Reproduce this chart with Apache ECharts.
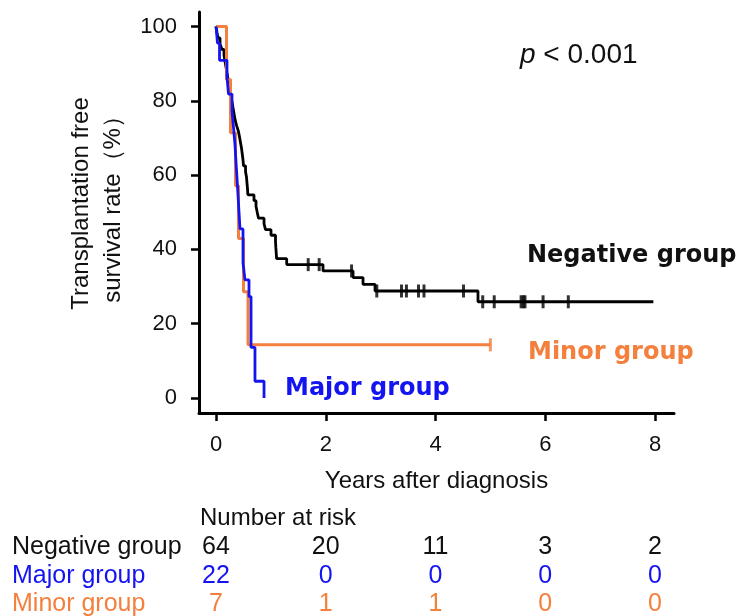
<!DOCTYPE html>
<html>
<head>
<meta charset="utf-8">
<script src="https://cdn.jsdelivr.net/npm/echarts@6/dist/echarts.min.js"></script>
<style>html,body{margin:0;padding:0;background:#fff}#c{width:736px;height:616px}</style>
</head>
<body>
<div id="c"></div>
<script>
// ---- data ----
const xTicks = [0, 2, 4, 6, 8];
const yTicks = [0, 20, 40, 60, 80, 100];

// Negative group (black) step curve: time (years) and survival (%) after each step
const negTimes = [0, 0.018, 0.036, 0.073, 0.109, 0.146, 0.164, 0.182, 0.200, 0.219, 0.237, 0.255, 0.273, 0.292, 0.310, 0.328, 0.346, 0.374, 0.406, 0.428, 0.446, 0.465, 0.479, 0.492, 0.501, 0.538, 0.556, 0.565, 0.574, 0.580, 0.692, 0.729, 0.751, 0.774, 0.875, 0.902, 1.002, 1.084, 1.090, 1.097, 1.104, 1.288, 1.950, 2.497, 2.679, 2.898, 4.774, 7.97];
const negSurv  = [100, 98.4, 96.9, 95.3, 93.8, 92.2, 90.6, 89.1, 87.5, 85.9, 84.4, 82.8, 81.3, 79.7, 78.1, 76.6, 75.0, 73.4, 71.9, 70.3, 68.8, 67.2, 65.6, 64.1, 62.5, 60.9, 59.4, 57.8, 56.3, 54.7, 53.1, 51.6, 50.0, 48.4, 46.9, 45.3, 43.8, 42.2, 40.6, 39.1, 37.5, 35.9, 34.2, 32.4, 30.6, 28.8, 25.9, 25.9];
const negCensorTimes = [1.68, 1.88, 2.47, 2.93, 3.38, 3.47, 3.69, 3.79, 4.51, 4.86, 5.07, 5.56, 5.60, 5.63, 5.96, 6.42];
const negCensorSurv  = [35.9, 35.9, 34.2, 28.8, 28.8, 28.8, 28.8, 28.8, 28.8, 25.9, 25.9, 25.9, 25.9, 25.9, 25.9, 25.9];

// Major group (blue)
const majTimes = [0, 0.027, 0.064, 0.200, 0.228, 0.291, 0.319, 0.346, 0.364, 0.383, 0.401, 0.419, 0.437, 0.492, 0.528, 0.601, 0.638, 0.710, 0.875];
const majSurv  = [100, 95.5, 90.9, 86.4, 81.8, 77.3, 72.7, 68.2, 63.6, 59.1, 54.5, 50.0, 45.5, 36.4, 31.8, 27.3, 13.6, 4.5, 0];

// Minor group (orange)
const minTimes = [0, 0.191, 0.264, 0.355, 0.410, 0.501, 0.583, 5.0];
const minSurv  = [100, 85.7, 71.4, 57.1, 42.9, 28.6, 14.3, 14.3];
const minCensorTimes = [5.0];
const minCensorSurv  = [14.3];

// Number at risk table
const riskGroups = ['Negative group', 'Major group', 'Minor group'];
const riskNegative = [64, 20, 11, 3, 2];
const riskMajor = [22, 0, 0, 0, 0];
const riskMinor = [7, 1, 1, 0, 0];

// ---- styling ----
const FONT = '"Liberation Sans", Arial, sans-serif';
const BOLD = '"DejaVu Sans", Verdana, sans-serif';
const BLACK = '#111111';
const BLUE = '#1414f0';
const ORANGE = '#f4803e';

const zip = (a, b) => a.map((v, i) => [v, b[i]]);

const chart = echarts.init(document.getElementById('c'), null, {renderer: 'canvas'});

const option = {
  animation: false,
  backgroundColor: '#ffffff',
  title: {
    text: '{i|p} < 0.001',
    left: 515, top: 36,
    textStyle: {
      fontSize: 28, fontFamily: FONT, color: BLACK, fontWeight: 'normal',
      rich: {i: {fontSize: 28, fontFamily: FONT, color: BLACK, fontStyle: 'italic'}}
    }
  },
  grid: {left: 199, right: 62, top: 12, bottom: 203, containLabel: false, outerBoundsMode: 'none'},
  xAxis: {
    type: 'value', min: -0.31, max: 8.346,
    axisLine: {show: true, onZero: false, lineStyle: {color: '#000', width: 3}},
    axisTick: {show: true, customValues: xTicks, length: 8, lineStyle: {color: '#000', width: 2.5}},
    axisLabel: {customValues: xTicks, fontSize: 22, color: BLACK, fontFamily: FONT, margin: 21},
    splitLine: {show: false},
    name: 'Years after diagnosis', nameLocation: 'middle', nameGap: 56,
    nameTextStyle: {fontSize: 24, color: BLACK, fontFamily: FONT}
  },
  yAxis: {
    type: 'value', min: -4.04, max: 103.9,
    axisLine: {show: true, onZero: false, lineStyle: {color: '#000', width: 3}},
    axisTick: {show: true, customValues: yTicks, length: 8, lineStyle: {color: '#000', width: 2.5}},
    axisLabel: {customValues: yTicks, fontSize: 22, color: BLACK, fontFamily: FONT, margin: 22},
    splitLine: {show: false},
    name: 'Transplantation free\nsurvival rate（%）', nameLocation: 'middle', nameGap: 66, nameRotate: 90,
    nameTextStyle: {fontSize: 24, lineHeight: 32, color: BLACK, fontFamily: FONT, padding: [0, 0, 0, 18]}
  },
  series: [
    {
      name: 'Negative group', type: 'line', step: 'end', data: zip(negTimes, negSurv),
      showSymbol: false, symbol: 'none', lineStyle: {color: '#000', width: 2.8}, z: 2
    },
    {
      name: 'Negative censored', type: 'scatter', data: zip(negCensorTimes, negCensorSurv),
      symbol: 'rect', symbolSize: [3, 13], itemStyle: {color: '#000'}, z: 3
    },
    {
      name: 'Minor group', type: 'line', step: 'end', data: zip(minTimes, minSurv),
      showSymbol: false, symbol: 'none', lineStyle: {color: ORANGE, width: 3}, z: 4
    },
    {
      name: 'Minor censored', type: 'scatter', data: zip(minCensorTimes, minCensorSurv),
      symbol: 'rect', symbolSize: [3, 13], itemStyle: {color: ORANGE}, z: 4
    },
    {
      name: 'Major group', type: 'line', step: 'end', data: zip(majTimes, majSurv),
      showSymbol: false, symbol: 'none', lineStyle: {color: BLUE, width: 2.8}, z: 5
    }
  ]
};

chart.setOption(option);

// ---- annotations & number-at-risk table ----
const graphics = [
  {type: 'text', left: 527, top: 244, style: {text: 'Negative group', font: 'bold 24px ' + BOLD, fill: BLACK}},
  {type: 'text', left: 528, top: 341, style: {text: 'Minor group', font: 'bold 24px ' + BOLD, fill: ORANGE}},
  {type: 'text', left: 285, top: 377, style: {text: 'Major group', font: 'bold 24px ' + BOLD, fill: BLUE}},
  {type: 'text', left: 200, top: 506, style: {text: 'Number at risk', font: '24px ' + FONT, fill: BLACK}}
];
const rowY = [547, 576, 604];
const rowColors = [BLACK, BLUE, ORANGE];
const rowValues = [riskNegative, riskMajor, riskMinor];
riskGroups.forEach((g, r) => {
  graphics.push({type: 'text', x: 12, y: rowY[r],
    style: {text: g, font: '25px ' + FONT, fill: rowColors[r], textVerticalAlign: 'middle', textAlign: 'left'}});
  xTicks.forEach((t, i) => {
    const px = chart.convertToPixel({xAxisIndex: 0}, t);
    graphics.push({type: 'text', x: px, y: rowY[r],
      style: {text: String(rowValues[r][i]), font: '25px ' + FONT, fill: rowColors[r], textAlign: 'center', textVerticalAlign: 'middle'}});
  });
});
chart.setOption({graphic: graphics});
</script>
</body>
</html>
